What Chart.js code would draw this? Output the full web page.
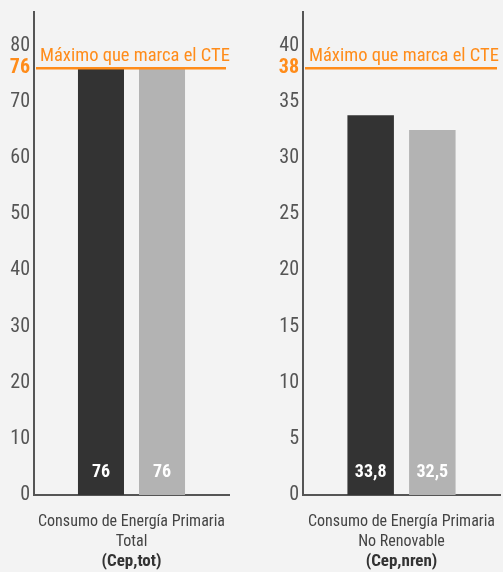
<!DOCTYPE html>
<html>
<head>
<meta charset="utf-8">
<script src="https://cdn.jsdelivr.net/npm/chart.js@4"></script>
<style>
  body { margin: 0; background: #f3f3f3; }
  .box { position: absolute; top: 0; height: 572px; }
  #left { left: 0; width: 250px; }
  #right { left: 250px; width: 253px; }
</style>
</head>
<body>
<div class="box" id="left"><canvas id="chartLeft"></canvas></div>
<div class="box" id="right"><canvas id="chartRight"></canvas></div>
<script>
const FONT = "'Roboto Condensed', 'DejaVu Sans', sans-serif";

// data
const categories = [
  ["Consumo de Energía Primaria", "Total"],
  ["Consumo de Energía Primaria", "No Renovable"],
];
const axisTitles = ["(Cep,tot)", "(Cep,nren)"];
const proyecto = [76, 33.8];
const referencia = [76, 32.5];
const limits = [76, 38];
const limitLabel = "Máximo que marca el CTE";
const ticksLeft = [0, 10, 20, 30, 40, 50, 60, 70, 80];
const ticksRight = [0, 5, 10, 15, 20, 25, 30, 35, 40];
const axisMax = [86, 43];

const ORANGE = "#ff8c1a";

function fmt(v) {
  return String(v).replace(".", ",");
}

const limitPlugin = {
  id: "limitline",
  afterDatasetsDraw(chart) {
    const { ctx, chartArea: { left, right, bottom }, scales: { y } } = chart;
    const limit = chart.options.plugins.limitline.value;
    const yPos = y.getPixelForValue(limit);

    ctx.save();
    ctx.strokeStyle = ORANGE;
    ctx.lineWidth = 2.5;
    ctx.beginPath();
    ctx.moveTo(left + 2, yPos);
    ctx.lineTo(right - 3, yPos);
    ctx.stroke();

    ctx.fillStyle = ORANGE;
    ctx.font = `18.5px ${FONT}`;
    ctx.textAlign = "left";
    ctx.textBaseline = "alphabetic";
    ctx.fillText(limitLabel, left + 6, yPos - 7);

    // values inside the bars
    ctx.fillStyle = "#ffffff";
    ctx.font = `bold 18px ${FONT}`;
    ctx.textAlign = "center";
    ctx.textBaseline = "middle";
    chart.data.datasets.forEach((ds, i) => {
      chart.getDatasetMeta(i).data.forEach((bar, j) => {
        ctx.fillText(fmt(ds.data[j]), bar.x, bottom - 23);
      });
    });
    ctx.restore();
  },
};

function makeChart(id, idx, tickValues, yWidth, padRight) {
  const limit = limits[idx];
  return new Chart(document.getElementById(id).getContext("2d"), {
    type: "bar",
    data: {
      labels: [categories[idx]],
      datasets: [
        { label: "Proyecto", data: [proyecto[idx]], backgroundColor: "#333333" },
        { label: "Referencia", data: [referencia[idx]], backgroundColor: "#b3b3b3" },
      ],
    },
    options: {
      responsive: true,
      maintainAspectRatio: false,
      animation: false,
      categoryPercentage: 0.626,
      barPercentage: 0.754,
      layout: { padding: { top: 12, right: padRight, left: 0, bottom: 0 } },
      scales: {
        x: {
          grid: { display: false, drawTicks: false },
          border: { display: true, color: "#555555", width: 2 },
          ticks: {
            color: "#444444",
            font: { family: FONT, size: 16, lineHeight: 1.25 },
            maxRotation: 0,
            autoSkip: false,
            padding: 17,
          },
          title: {
            display: true,
            text: axisTitles[idx],
            color: "#333333",
            font: { family: FONT, size: 17, weight: "bold" },
            padding: { top: 0, bottom: 0 },
          },
          afterFit(scale) {
            scale.height = 77;
            scale.paddingLeft = 0;
            scale.paddingRight = 0;
          },
        },
        y: {
          min: 0,
          max: axisMax[idx],
          grid: { display: false, drawTicks: false },
          border: { display: true, color: "#555555", width: 2 },
          ticks: {
            padding: 4,
            color: (c) => (c.tick && c.tick.value === limit ? ORANGE : "#555555"),
            font: (c) => ({
              family: FONT,
              size: 20,
              weight: c.tick && c.tick.value === limit ? "bold" : "normal",
            }),
          },
          afterBuildTicks(scale) {
            scale.ticks = tickValues.concat([limit]).map((v) => ({ value: v }));
          },
          afterFit(scale) {
            scale.width = yWidth;
            scale.paddingTop = 0;
            scale.paddingBottom = 0;
          },
        },
      },
      plugins: {
        legend: { display: false },
        tooltip: { enabled: false },
        limitline: { value: limit },
      },
    },
    plugins: [limitPlugin],
  });
}

makeChart("chartLeft", 0, ticksLeft, 34, 21);
makeChart("chartRight", 1, ticksRight, 53, 3);
</script>
</body>
</html>
